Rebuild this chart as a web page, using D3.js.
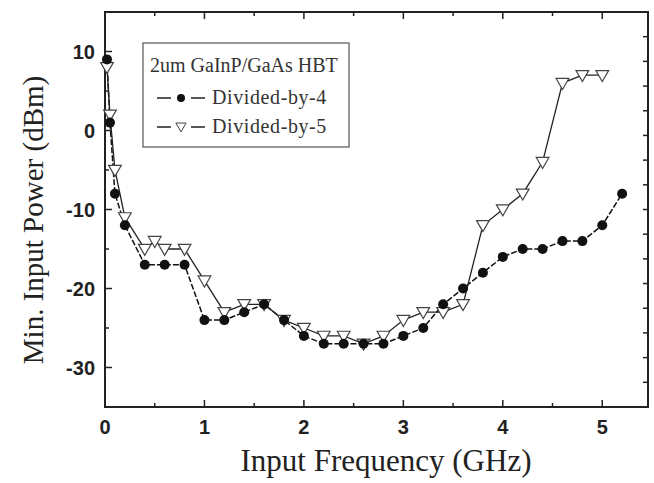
<!DOCTYPE html>
<html>
<head>
<meta charset="utf-8">
<script src="https://cdn.jsdelivr.net/npm/d3@7"></script>
<style>
  body { margin: 0; background: #fff; }
  .tick text { font-family: "Liberation Sans", Arial, sans-serif; font-size: 20px; font-weight: bold; fill: #222; }
  .axis-title { font-family: "Liberation Serif", "Times New Roman", serif; font-size: 29px; fill: #222; }
  .legend text { font-family: "Liberation Serif", "Times New Roman", serif; font-size: 20px; fill: #333; }
</style>
</head>
<body>
<svg id="chart" width="654" height="483"></svg>
<script>
// data
var div4Freq = [0.02, 0.05, 0.1, 0.2, 0.4, 0.6, 0.8, 1.0, 1.2, 1.4, 1.6, 1.8, 2.0, 2.2, 2.4, 2.6, 2.8, 3.0, 3.2, 3.4, 3.6, 3.8, 4.0, 4.2, 4.4, 4.6, 4.8, 5.0, 5.2];
var div4Power = [9, 1, -8, -12, -17, -17, -17, -24, -24, -23, -22, -24, -26, -27, -27, -27, -27, -26, -25, -22, -20, -18, -16, -15, -15, -14, -14, -12, -8];

var div5Freq = [0.02, 0.05, 0.1, 0.2, 0.4, 0.5, 0.6, 0.8, 1.0, 1.2, 1.4, 1.6, 1.8, 2.0, 2.2, 2.4, 2.6, 2.8, 3.0, 3.2, 3.4, 3.6, 3.8, 4.0, 4.2, 4.4, 4.6, 4.8, 5.0];
var div5Power = [8, 2, -5, -11, -15, -14, -15, -15, -19, -23, -22, -22, -24, -25, -26, -26, -27, -26, -24, -23, -23, -22, -12, -10, -8, -4, 6, 7, 7];

var xTicks = [0, 1, 2, 3, 4, 5];
var yTicks = [10, 0, -10, -20, -30];
var legendTitle = "2um GaInP/GaAs HBT";
var seriesNames = ["Divided-by-4", "Divided-by-5"];

var svg = d3.select("#chart");
var margin = { top: 12, right: 6, bottom: 76, left: 105 };
var width = 654 - margin.left - margin.right;
var height = 483 - margin.top - margin.bottom;

var g = svg.append("g")
    .attr("transform", `translate(${margin.left}, ${margin.top})`);

var x = d3.scaleLinear().domain([0, 5.46]).range([0, width]);
var y = d3.scaleLinear().domain([-35, 15]).range([height, 0]);

var minorX = d3.range(0.5, 5.4, 1);
var minorY = [5, -5, -15, -25];

function drawTicks(sel, vals, len, horizontal, edge) {
    sel.selectAll(null)
        .data(vals)
        .enter()
        .append("line")
        .attr("x1", d => horizontal ? x(d) : edge)
        .attr("x2", d => horizontal ? x(d) : edge + len)
        .attr("y1", d => horizontal ? edge : y(d))
        .attr("y2", d => horizontal ? edge + len : y(d))
        .attr("stroke", "#222")
        .attr("stroke-width", 1.5);
}

var ticks = g.append("g");
// bottom and top (inward)
drawTicks(ticks, xTicks, -7, true, height);
drawTicks(ticks, minorX, -4, true, height);
drawTicks(ticks, xTicks, 7, true, 0);
drawTicks(ticks, minorX, 4, true, 0);
// left (inward)
drawTicks(ticks, yTicks, 7, false, 0);
drawTicks(ticks, minorY, 4, false, 0);
// right side has its own even ticks
var rightTicks = d3.range(1, 16).map(i => 15 - i * 50 / 16);
drawTicks(ticks, rightTicks, -5, false, width);

// frame
g.append("rect")
    .attr("width", width)
    .attr("height", height)
    .attr("fill", "none")
    .attr("stroke", "#222")
    .attr("stroke-width", 2);

// tick labels
var xLab = g.append("g").attr("class", "tick");
xLab.selectAll("text")
    .data(xTicks)
    .enter()
    .append("text")
    .attr("x", d => x(d))
    .attr("y", height + 27)
    .attr("text-anchor", "middle")
    .text(d => d);

var yLab = g.append("g").attr("class", "tick");
yLab.selectAll("text")
    .data(yTicks)
    .enter()
    .append("text")
    .attr("x", -10)
    .attr("y", d => y(d))
    .attr("dy", "0.36em")
    .attr("text-anchor", "end")
    .text(d => d);

// axis titles
g.append("text")
    .attr("class", "axis-title")
    .attr("x", 386 - margin.left)
    .attr("y", height + 64)
    .attr("text-anchor", "middle")
    .style("font-size", "31px")
    .text("Input Frequency (GHz)");

g.append("text")
    .attr("class", "axis-title")
    .attr("transform", "rotate(-90)")
    .attr("x", -(220 - margin.top))
    .attr("y", -margin.left + 43)
    .attr("text-anchor", "middle")
    .text("Min. Input Power (dBm)");

// series
var div4 = div4Freq.map((f, i) => ({ f: f, p: div4Power[i] }));
var div5 = div5Freq.map((f, i) => ({ f: f, p: div5Power[i] }));

var line = d3.line().x(d => x(d.f)).y(d => y(d.p));

g.append("path")
    .datum(div4)
    .attr("d", line)
    .attr("fill", "none")
    .attr("stroke", "#111")
    .attr("stroke-width", 1.5)
    .attr("stroke-dasharray", "6,2");

g.append("path")
    .datum(div5)
    .attr("d", line)
    .attr("fill", "none")
    .attr("stroke", "#222")
    .attr("stroke-width", 1.3);

var tri = d3.symbol().type(d3.symbolTriangle).size(70);

g.selectAll(".tri")
    .data(div5)
    .enter()
    .append("path")
    .attr("class", "tri")
    .attr("d", tri)
    .attr("transform", d => `translate(${x(d.f)}, ${y(d.p) - 1}) rotate(180)`)
    .attr("fill", "#fff")
    .attr("stroke", "#444")
    .attr("stroke-width", 1.2);

g.selectAll(".dot")
    .data(div4)
    .enter()
    .append("circle")
    .attr("class", "dot")
    .attr("cx", d => x(d.f))
    .attr("cy", d => y(d.p))
    .attr("r", 5)
    .attr("fill", "#111");

// legend
var legend = svg.append("g")
    .attr("class", "legend")
    .attr("transform", "translate(143, 43)");

legend.append("rect")
    .attr("width", 206)
    .attr("height", 104)
    .attr("fill", "#fff")
    .attr("stroke", "#555")
    .attr("stroke-width", 1.2);

legend.append("text")
    .attr("x", 7)
    .attr("y", 29)
    .text(legendTitle);

seriesNames.forEach(function(name, i) {
    var row = legend.append("g").attr("transform", `translate(0, ${55 + i * 29})`);
    row.append("line")
        .attr("x1", 14).attr("x2", 62)
        .attr("y1", 0).attr("y2", 0)
        .attr("stroke", "#222")
        .attr("stroke-width", 1.5)
        .attr("stroke-dasharray", "14,20");
    if (i === 0) {
        row.append("circle").attr("cx", 38).attr("cy", 0).attr("r", 4).attr("fill", "#111");
    } else {
        row.append("path")
            .attr("d", d3.symbol().type(d3.symbolTriangle).size(45))
            .attr("transform", "translate(38, -1) rotate(180)")
            .attr("fill", "#fff")
            .attr("stroke", "#444");
    }
    row.append("text")
        .attr("x", 69)
        .attr("y", 6)
        .attr("letter-spacing", "0.6px")
        .text(name);
});
</script>
</body>
</html>
